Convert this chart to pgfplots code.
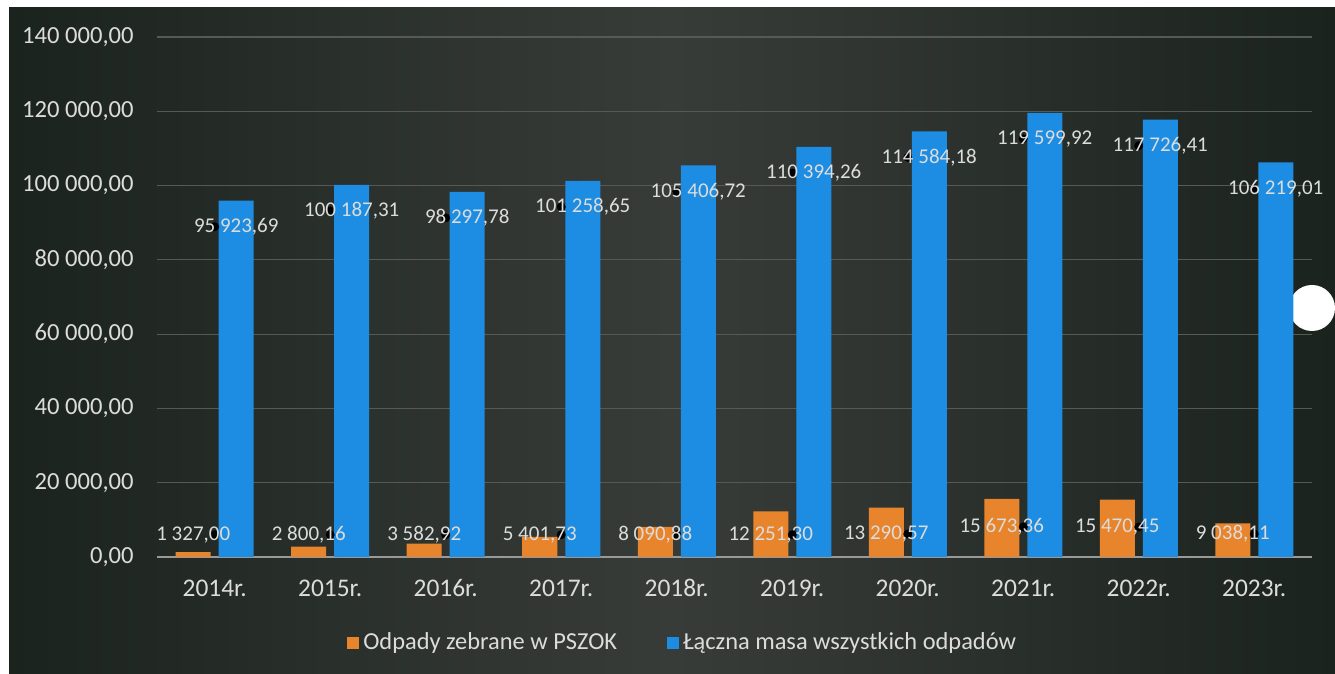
\documentclass[border=0pt]{standalone}
\usepackage{pgfplots}
\pgfplotsset{compat=1.18}
\usepackage{fontspec}
\setmainfont{Carlito}

\definecolor{bgdark}{HTML}{1B231F}
\definecolor{bgmid}{HTML}{383C38}
\definecolor{barblue}{HTML}{1C8DE2}
\definecolor{barorange}{HTML}{E8842C}
\definecolor{txt}{HTML}{DCDCDC}
\definecolor{gridc}{HTML}{565A56}

\begin{document}
\begin{tikzpicture}
    % page frame with scanned white margin
    \useasboundingbox (0,0) rectangle (667.5pt,337pt);
    \fill[white] (0,0) rectangle (667.5pt,337pt);
    \shade[left color=bgdark, right color=bgdark, middle color=bgmid]
        (4.5pt,0) rectangle (667.5pt,333pt);
    \fill[white] (656pt,183pt) circle (11.5pt);

    \begin{axis}[
        at={(78.5pt,58.5pt)}, anchor=south west,
        scale only axis,
        width=577.5pt, height=260pt,
        xmin=-0.5, xmax=9.5,
        ymin=0, ymax=140000,
        scaled y ticks=false,
        axis x line*=bottom, axis y line*=left,
        x axis line style={draw=gray!80, line width=1pt},
        y axis line style={draw=none},
        major tick length=0pt,
        ymajorgrids=true,
        grid style={gridc, line width=0.6pt},
        xtick={0,...,9},
        xticklabels={2014r.,2015r.,2016r.,2017r.,2018r.,2019r.,2020r.,2021r.,2022r.,2023r.},
        ytick={0,20000,40000,60000,80000,100000,120000,140000},
        yticklabels={{0,00},{20 000,00},{40 000,00},{60 000,00},{80 000,00},{100 000,00},{120 000,00},{140 000,00}},
        yticklabel style={anchor=east, inner sep=0pt, xshift=-11.5pt, text=txt, font=\fontsize{12.3}{14}\selectfont},
        xticklabel style={anchor=base, inner sep=0pt, yshift=-20pt, text=txt, font=\fontsize{12.7}{14}\selectfont},
        legend columns=2,
        legend style={at={(0.456,0)}, anchor=center, yshift=-43pt,
            draw=none, fill=none, text=txt, font=\fontsize{12.2}{14}\selectfont,
            /tikz/every even column/.append style={column sep=23pt}},
        legend image code/.code={\path[#1, draw=none] (0pt,-3pt) rectangle (6pt,3pt);},
    ]
        \addplot[ybar, bar width=17.5pt, bar shift=-10.75pt, fill=barorange, draw=none]
            coordinates {(0,1327.00) (1,2800.16) (2,3582.92) (3,5401.73) (4,8090.88)
                         (5,12251.30) (6,13290.57) (7,15673.36) (8,15470.45) (9,9038.11)};
        \addplot[ybar, bar width=17.5pt, bar shift=10.75pt, fill=barblue, draw=none]
            coordinates {(0,95923.69) (1,100187.31) (2,98297.78) (3,101258.65) (4,105406.72)
                         (5,110394.26) (6,114584.18) (7,119599.92) (8,117726.41) (9,106219.01)};
        \legend{Odpady zebrane w PSZOK, Łączna masa wszystkich odpadów}

        % data labels
        \addplot[forget plot, only marks, mark=*, mark options={draw=none, fill=none},
            nodes near coords, point meta=explicit symbolic,
            every node near coord/.append style={anchor=center, xshift=-10.75pt, text=txt,
                font=\fontsize{10.5}{12}\selectfont}]
            table[meta=label] {
x y label
0 6000 {1 327,00}
1 6000 {2 800,16}
2 6000 {3 582,92}
3 6000 {5 401,73}
4 6000 {8 090,88}
5 6000 {12 251,30}
6 6200 {13 290,57}
7 8100 {15 673,36}
8 8100 {15 470,45}
9 6200 {9 038,11}
};
        \addplot[forget plot, only marks, mark=*, mark options={draw=none, fill=none},
            nodes near coords, point meta=explicit symbolic,
            every node near coord/.append style={anchor=center, xshift=10.75pt, text=txt,
                font=\fontsize{10.5}{12}\selectfont}]
            table[meta=label] {
x y label
0 88924 {95 923,69}
1 93187 {100 187,31}
2 91298 {98 297,78}
3 94259 {101 258,65}
4 98407 {105 406,72}
5 103394 {110 394,26}
6 107584 {114 584,18}
7 112600 {119 599,92}
8 110726 {117 726,41}
9 99219 {106 219,01}
};
    \end{axis}
\end{tikzpicture}
\end{document}
